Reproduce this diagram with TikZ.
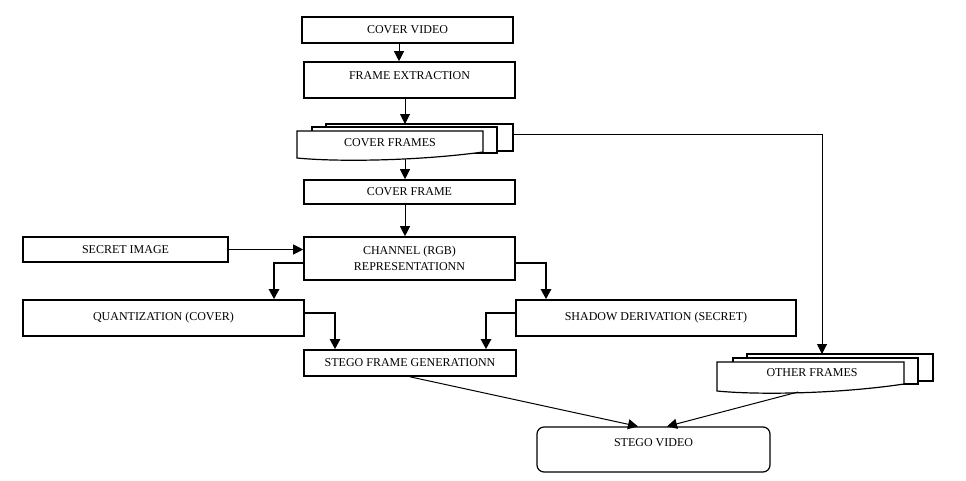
\documentclass[tikz,border=0pt]{standalone}
\usepackage{fontspec}
\setmainfont{Liberation Serif}
\usetikzlibrary{arrows.meta}
\begin{document}
\begin{tikzpicture}[x=1pt,y=-1pt,
  lbl/.style={font=\fontsize{12}{14}\selectfont,inner sep=0pt},
  box/.style={draw,line width=1.6pt,fill=white,inner sep=0pt,lbl},
  arr/.style={line width=1pt,-{Triangle[length=10pt,width=10pt]}},
  elb/.style={line width=2.2pt,-{Triangle[length=10pt,width=10pt]}},
  sheet/.style={draw,line width=1.2pt,fill=white},
]
\useasboundingbox (0,0) rectangle (966,480);

% plain boxes
\node[box,minimum width=211pt,minimum height=26pt] (cv) at (407.5,30) {COVER VIDEO};
\node[box,minimum width=211pt,minimum height=36pt,text depth=8pt] (fe) at (409.5,80) {FRAME EXTRACTION};
\node[box,minimum width=211pt,minimum height=24pt] (cfr) at (409.5,192) {COVER FRAME};
\node[box,minimum width=211pt,minimum height=43pt,align=center] (ch) at (409.5,258.5) {CHANNEL (RGB)\\[2pt]REPRESENTATIONN};
\node[box,minimum width=205pt,minimum height=25pt] (si) at (125.5,249.5) {SECRET IMAGE};
\node[box,minimum width=281pt,minimum height=36pt] (q) at (163.5,318) {QUANTIZATION (COVER)};
\node[box,minimum width=280pt,minimum height=36pt] (sh) at (656,318) {SHADOW DERIVATION (SECRET)};
\node[box,minimum width=212pt,minimum height=26pt] (sfg) at (410,363) {STEGO FRAME GENERATIONN};
\node[box,line width=1.2pt,rounded corners=7pt,minimum width=233pt,minimum height=45pt,text depth=13pt] (sv) at (653.5,449.5) {STEGO VIDEO};

% cover frames stack
\begin{scope}[shift={(297,131)}]
  \draw[sheet] (29,-7) rectangle (216,20);
  \draw[sheet] (15,-4) rectangle (200,22);
  \draw[sheet] (0,0) -- (186,0) -- (186,21) .. controls (120,30) and (40,31) .. (0,27) -- cycle;
  \node[lbl] (cfs) at (93,12) {COVER FRAMES};
  \coordinate (cfTop) at (108,-7);
  \coordinate (cfBot) at (108,28);
  \coordinate (cfRight) at (216,3);
\end{scope}

% other frames stack
\begin{scope}[shift={(717,362)}]
  \draw[sheet] (30,-8) rectangle (216,19);
  \draw[sheet] (16,-4) rectangle (201,22);
  \draw[sheet] (0,0) -- (187,0) -- (187,22) .. controls (120,32) and (40,33) .. (0,29) -- cycle;
  \node[lbl] (ofs) at (95,11) {OTHER FRAMES};
  \coordinate (ofTop) at (105,-8);
  \coordinate (ofBot) at (81,30);
\end{scope}

% connectors
\draw[arr] ([xshift=-8.5pt]cv.south) -- ([xshift=-10.5pt]fe.north);
\draw[arr] (fe.south -| cfTop) -- (cfTop);
\draw[arr] (cfBot) -- (cfr.north -| cfBot);
\draw[arr] (cfr.south -| cfBot) -- (ch.north -| cfBot);
\draw[arr] (si.east) -- (ch.west |- si.east);
\draw[arr] (cfRight) -| (ofTop);
\draw[elb] ([yshift=-4.5pt]ch.west) -| ([xshift=110.5pt]q.north);
\draw[elb] ([yshift=-4.5pt]ch.east) -| ([xshift=-110pt]sh.north);
\draw[elb] ([yshift=5pt]q.east) -| ([xshift=-75pt]sfg.north);
\draw[elb] ([yshift=5pt]sh.west) -| ([xshift=76pt]sfg.north);
\draw[arr] (sfg.south) -- ([xshift=-15.5pt]sv.north);
\draw[arr] (ofBot) -- ([xshift=13.5pt]sv.north);
\end{tikzpicture}
\end{document}
